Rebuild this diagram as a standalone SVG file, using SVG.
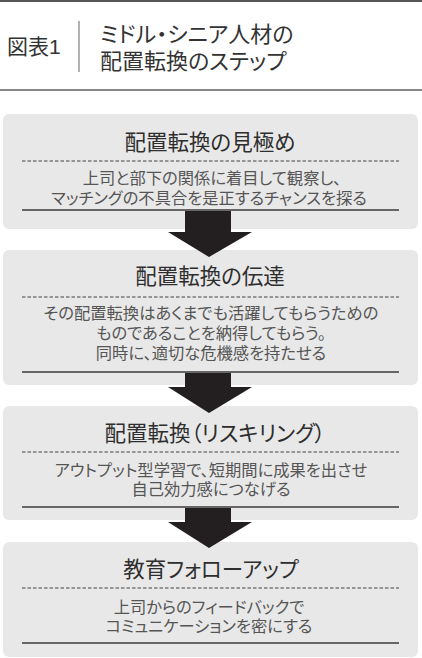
<svg xmlns="http://www.w3.org/2000/svg" width="422" height="658" viewBox="0 0 422 658">
<style>
text{font-family:"Liberation Sans","Noto Sans CJK JP",sans-serif;font-feature-settings:"palt";}
.hd{font-size:22px;fill:#333;}
.ttl{font-size:21.5px;fill:#2e2e2e;text-anchor:middle;}
.body{font-size:16.3px;fill:#555;text-anchor:middle;}
.box{fill:#e8e8e8;}
.dash{stroke:#7a7a7a;stroke-width:1.4;stroke-dasharray:3.5 2;fill:none;}
.solid{stroke:#666;stroke-width:1.8;fill:none;}
.arrow{fill:#231f20;}
</style>
<rect width="422" height="658" fill="#fff"/>
<g id="header">
<line x1="0" y1="1" x2="422" y2="1" stroke="#555" stroke-width="2"/>
<text class="hd" x="7" y="54" style="font-size:21px">図表1</text>
<line x1="79" y1="21" x2="79" y2="72" stroke="#999" stroke-width="1.5"/>
<text class="hd" x="100" y="42">ミドル・シニア人材の</text>
<text class="hd" x="100" y="69">配置転換のステップ</text>
<line x1="0" y1="90" x2="422" y2="90" stroke="#888" stroke-width="1.8"/>
</g>
<g id="step1">
<rect class="box" x="3" y="114" width="415" height="115" rx="6"/>
<text class="ttl" x="210" y="150">配置転換の見極め</text>
<line class="dash" x1="22" y1="161" x2="399" y2="161"/>
<text class="body" x="212" y="183.5">上司と部下の関係に着目して観察し、</text>
<text class="body" x="209" y="203.5">マッチングの不具合を是正するチャンスを探る</text>
<line class="solid" x1="22" y1="210" x2="399" y2="210"/>
</g>
<g id="step2">
<rect class="box" x="3" y="250" width="415" height="135" rx="6"/>
<text class="ttl" x="210" y="284">配置転換の伝達</text>
<line class="dash" x1="22" y1="297" x2="399" y2="297"/>
<text class="body" x="211" y="319">その配置転換はあくまでも活躍してもらうための</text>
<text class="body" x="211" y="339">ものであることを納得してもらう。</text>
<text class="body" x="211" y="359">同時に、適切な危機感を持たせる</text>
<line class="solid" x1="22" y1="372" x2="399" y2="372"/>
</g>
<g id="step3">
<rect class="box" x="3" y="406" width="415" height="114" rx="6"/>
<text class="ttl" x="215" y="441">配置転換（リスキリング）</text>
<line class="dash" x1="22" y1="452" x2="399" y2="452"/>
<text class="body" x="211" y="475.5">アウトプット型学習で、短期間に成果を出させ</text>
<text class="body" x="211" y="495">自己効力感につなげる</text>
<line class="solid" x1="22" y1="507" x2="399" y2="507"/>
</g>
<g id="step4">
<rect class="box" x="3" y="542" width="415" height="115" rx="6"/>
<text class="ttl" x="211" y="577">教育フォローアップ</text>
<line class="dash" x1="22" y1="588" x2="399" y2="588"/>
<text class="body" x="209" y="612.5">上司からのフィードバックで</text>
<text class="body" x="209" y="631.5">コミュニケーションを密にする</text>
<line class="solid" x1="22" y1="643" x2="399" y2="643"/>
</g>
<g id="connectors">
<path class="arrow" d="M185 211 H231 V232 H252 L209 257 L168 232 H185 Z"/>
<path class="arrow" d="M185 373 H231 V387 H252 L209 413 L168 387 H185 Z"/>
<path class="arrow" d="M185 508 H231 V522 H252 L209 548 L168 522 H185 Z"/>
</g>
</svg>
